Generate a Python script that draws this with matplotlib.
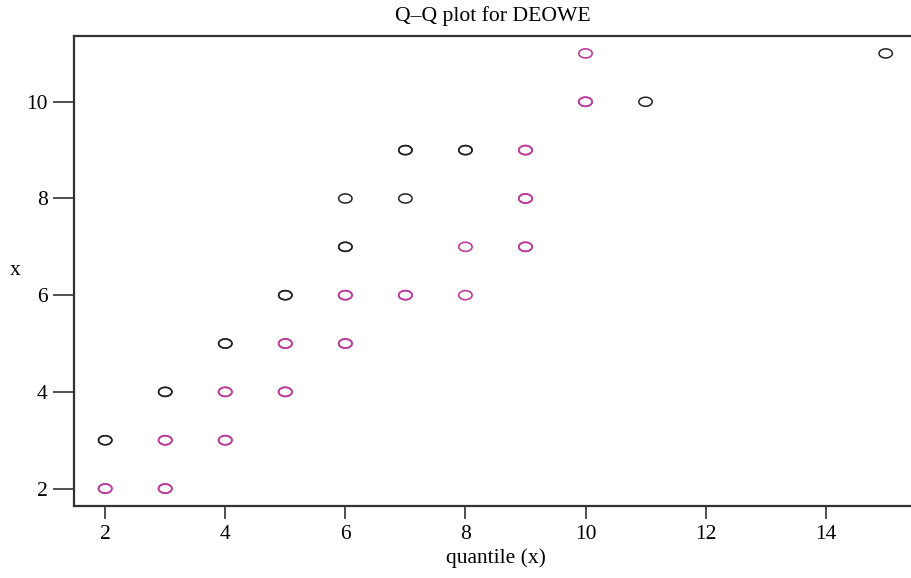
import matplotlib
matplotlib.use("Agg")
import matplotlib.pyplot as plt
import numpy as np
from matplotlib.path import Path

# Q-Q points; repeated pairs are plotted on top of each other
black_x = [2, 2, 3, 3, 4, 4, 5, 5, 6, 6, 6, 7, 7, 7, 8, 8, 11, 15]
black_y = [3, 3, 4, 4, 5, 5, 6, 6, 7, 7, 8, 8, 9, 9, 9, 9, 10, 11]

pink_x = [2, 2, 3, 3, 3, 3, 4, 4, 4, 4, 5, 5, 5, 5, 6, 6, 6, 6, 7, 7,
          8, 8, 9, 9, 9, 9, 9, 9, 10, 10, 10]
pink_y = [2, 2, 2, 2, 3, 3, 3, 3, 4, 4, 4, 4, 5, 5, 5, 5, 6, 6, 6, 6,
          6, 7, 7, 7, 8, 8, 9, 9, 10, 10, 11]

xticks = [2, 4, 6, 8, 10, 12, 14]
yticks = [2, 4, 6, 8, 10]

plt.rcParams['font.family'] = ['Liberation Serif', 'DejaVu Serif']

# open ellipse marker (wider than tall)
t = np.linspace(0, 2 * np.pi, 60)
ellipse = Path(np.column_stack([np.cos(t), 0.68 * np.sin(t)]), closed=True)

fig = plt.figure(figsize=(9.12, 5.78), dpi=100)
ax = fig.add_axes([0.0811, 0.1246, 0.9243, 0.8131])

ax.scatter(black_x, black_y, marker=ellipse, s=9.6 ** 2, facecolors='none',
           edgecolors='#222222', linewidths=1.1, zorder=3)
ax.scatter(pink_x, pink_y, marker=ellipse, s=9.6 ** 2, facecolors='none',
           edgecolors='#bd3c9c', linewidths=1.2, zorder=3)

ax.set_xlim(1.48, 15.52)
ax.set_ylim(1.64, 11.36)
ax.set_xticks(xticks)
ax.set_yticks(yticks)
ax.tick_params(axis='x', length=9, width=1.2, pad=5, labelsize=15.5, color='#333333')
ax.tick_params(axis='y', length=15, width=1.2, pad=4, labelsize=15.5, color='#333333')

for side in ['left', 'bottom', 'top', 'right']:
    ax.spines[side].set_linewidth(1.6)
    ax.spines[side].set_color('#333333')

ax.set_title('Q\u2013Q plot for DEOWE', fontsize=15.6, pad=11, x=0.497)
ax.set_xlabel('quantile (x)', fontsize=15.5, labelpad=3)
ax.set_ylabel('x', fontsize=15.5, rotation=0, va='center', ha='center')
ax.yaxis.set_label_coords(-0.07, 0.5)

fig.savefig('out.png', dpi=100)
